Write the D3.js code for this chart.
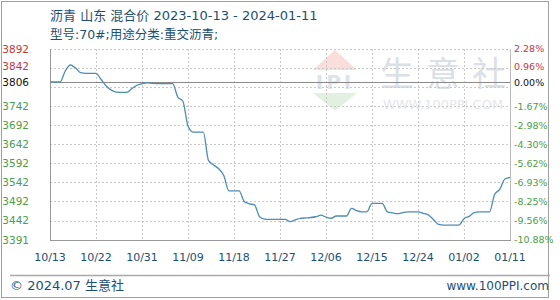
<!DOCTYPE html>
<html>
<head>
<meta charset="utf-8">
<script src="https://cdn.jsdelivr.net/npm/d3@7"></script>
<style>
  body { margin: 0; background: #fff; }
  svg { display: block; }
</style>
</head>
<body>
<svg id="chart" width="560" height="300"></svg>
<script>
// daily price, 2023-10-13 .. 2024-01-11
const startDate = "2023-10-13";
const prices = [
  3806, 3806, 3806, 3835, 3850, 3842, 3830, 3828, 3828, 3828,
  3812, 3795, 3784, 3779, 3778, 3778, 3788, 3797, 3801, 3803,
  3802, 3801, 3801, 3801, 3801, 3766, 3755, 3690, 3674, 3674,
  3674, 3600, 3588, 3578, 3560, 3520, 3520, 3520, 3492, 3486,
  3483, 3452, 3446, 3445, 3445, 3445, 3445, 3439, 3444, 3448,
  3449, 3450, 3452, 3456, 3451, 3448, 3454, 3454, 3454, 3474,
  3468, 3465, 3465, 3487, 3487, 3487, 3465, 3462, 3460, 3463,
  3465, 3465, 3465, 3461, 3457, 3445, 3432, 3430, 3430, 3430,
  3430, 3447, 3453, 3463, 3465, 3465, 3465, 3511, 3524, 3551,
  3555
];
const basePrice = 3806;
const gridValues = [3892, 3842, 3792, 3742, 3692, 3642, 3592, 3542, 3492, 3442, 3391];
const leftLabels = ["3892", "3842", "3806", "3742", "3692", "3642", "3592", "3542", "3492", "3442", "3391"];
const rightLabels = ["2.28%", "0.96%", "0.00%", "-1.67%", "-2.98%", "-4.30%", "-5.62%", "-6.93%", "-8.25%", "-9.56%", "-10.88%"];
const xTickLabels = ["10/13", "10/22", "10/31", "11/09", "11/18", "11/27", "12/06", "12/15", "12/24", "01/02", "01/11"];

const svg = d3.select("#chart");
const pLeft = 50, pRight = 510, pTop = 49, pBottom = 240;
const parse = d3.timeParse("%Y-%m-%d");
const t0 = parse(startDate);
const data = prices.map((v, i) => ({ date: d3.timeDay.offset(t0, i), value: v }));

const x = d3.scaleTime().domain([t0, data[data.length - 1].date]).range([pLeft, pRight]);
const y = d3.scaleLinear().domain([3391, 3892]).range([pBottom, pTop]);
const xTicks = xTickLabels.map((d, i) => d3.timeDay.offset(t0, i * 9));

const colRed = "#c8383a", colGreen = "#4a9e4a", colBlue = "#1d4f72";
const numFont = "DejaVu Sans, Verdana, sans-serif";
const mixFont = "DejaVu Sans, Noto Sans CJK SC, sans-serif";

// outer frame
svg.append("rect").attr("x", 1.5).attr("y", 1.5).attr("width", 547).attr("height", 296)
  .attr("fill", "none").attr("stroke", "#a0a0a0");

// watermark
const wm = svg.append("g").attr("opacity", 0.45);
wm.append("path").attr("d", "M313,70 L335,50 L357,70 Z").attr("fill", "#f3b7b0");
wm.append("path").attr("d", "M313,93 L357,93 L335,111 Z").attr("fill", "#bfe0bd");
wm.append("text").attr("x", 335).attr("y", 89).attr("text-anchor", "middle")
  .attr("font-family", numFont).attr("font-weight", "bold").attr("font-size", 20)
  .attr("fill", "#b8c2d4").attr("letter-spacing", 3).text("IPI");
wm.append("text").attr("x", 449).attr("y", 86).attr("text-anchor", "middle")
  .attr("font-family", "Noto Sans CJK SC, sans-serif").attr("font-size", 34).attr("fill", "#b0b9c8")
  .attr("letter-spacing", 12).text("生意社");
wm.append("text").attr("x", 443).attr("y", 109).attr("text-anchor", "middle")
  .attr("font-family", numFont).attr("font-size", 13).attr("fill", "#c4c8cf")
  .text("WWW.100PPI.COM");

// grid
const grid = svg.append("g").attr("stroke", "#c8c8c8").attr("stroke-dasharray", "2,2");
grid.selectAll(".hg").data(gridValues).join("line")
  .attr("x1", pLeft).attr("x2", pRight)
  .attr("y1", d => Math.round(y(d)) + 0.5).attr("y2", d => Math.round(y(d)) + 0.5);
grid.selectAll(".vg").data(xTicks).join("line")
  .attr("y1", pTop).attr("y2", pBottom)
  .attr("x1", d => Math.round(x(d)) + 0.5).attr("x2", d => Math.round(x(d)) + 0.5);

// axes frame
svg.append("line").attr("x1", pLeft + 0.5).attr("x2", pLeft + 0.5).attr("y1", pTop).attr("y2", pBottom + 0.5)
  .attr("stroke", "#999");
svg.append("line").attr("x1", pLeft).attr("x2", pRight + 1).attr("y1", Math.round(y(3391)) + 0.5).attr("y2", Math.round(y(3391)) + 0.5)
  .attr("stroke", "#999");
svg.append("line").attr("x1", pRight + 0.5).attr("x2", pRight + 0.5).attr("y1", pTop).attr("y2", pBottom)
  .attr("stroke", "#bbb");

// base line
svg.append("line").attr("x1", pLeft).attr("x2", pRight)
  .attr("y1", Math.round(y(basePrice)) + 0.5).attr("y2", Math.round(y(basePrice)) + 0.5)
  .attr("stroke", "#8a8a8a").attr("stroke-width", 1.2);

// price line
const line = d3.line().x(d => x(d.date)).y(d => y(d.value)).curve(d3.curveMonotoneX);
svg.append("path").datum(data).attr("d", line)
  .attr("fill", "none").attr("stroke", "#4d8db3").attr("stroke-width", 1.3);

// left labels
const labelY = (d, i) => i === 2 ? y(basePrice) : y(gridValues[i]);
const labelColor = i => i < 2 ? colRed : (i === 2 ? "#111" : colGreen);
// nudge the two labels nearest the base line apart a little
const nudge = i => i === 1 ? -1.5 : (i === 2 ? 0.5 : 0);
svg.selectAll(".ll").data(leftLabels).join("text")
  .attr("x", 29).attr("y", (d, i) => labelY(d, i) + nudge(i)).attr("dy", "0.35em")
  .attr("text-anchor", "end").attr("font-family", numFont).attr("font-size", 10.5)
  .attr("fill", (d, i) => labelColor(i)).text(d => d);

svg.selectAll(".rl").data(rightLabels).join("text")
  .attr("x", 514).attr("y", (d, i) => labelY(d, i) + nudge(i)).attr("dy", "0.35em")
  .attr("font-family", numFont).attr("font-size", 9.5)
  .attr("fill", (d, i) => labelColor(i)).text(d => d);

// x labels
svg.selectAll(".xl").data(xTicks).join("text")
  .attr("x", d => x(d)).attr("y", 261).attr("text-anchor", "middle")
  .attr("font-family", numFont).attr("font-size", 11).attr("fill", colBlue)
  .text((d, i) => xTickLabels[i]);

// titles
svg.append("text").attr("x", 50).attr("y", 20).attr("font-family", mixFont).attr("font-size", 13)
  .attr("fill", colBlue).text("沥青 山东 混合价 2023-10-13 - 2024-01-11");
svg.append("text").attr("x", 50).attr("y", 39).attr("font-family", mixFont).attr("font-size", 12.5)
  .attr("fill", colBlue).text("型号:70#;用途分类:重交沥青;");

// footer
svg.append("line").attr("x1", 10).attr("x2", 550).attr("y1", 275.5).attr("y2", 275.5)
  .attr("stroke", "#a8a8a8").attr("stroke-width", 1.5);
svg.append("text").attr("x", 10).attr("y", 290).attr("font-family", mixFont).attr("font-size", 13)
  .attr("fill", colBlue).text("© 2024.07 生意社");
svg.append("text").attr("x", 549).attr("y", 290).attr("text-anchor", "end")
  .attr("font-family", numFont).attr("font-size", 12).attr("fill", colBlue).text("www.100PPI.com");
</script>
</body>
</html>
